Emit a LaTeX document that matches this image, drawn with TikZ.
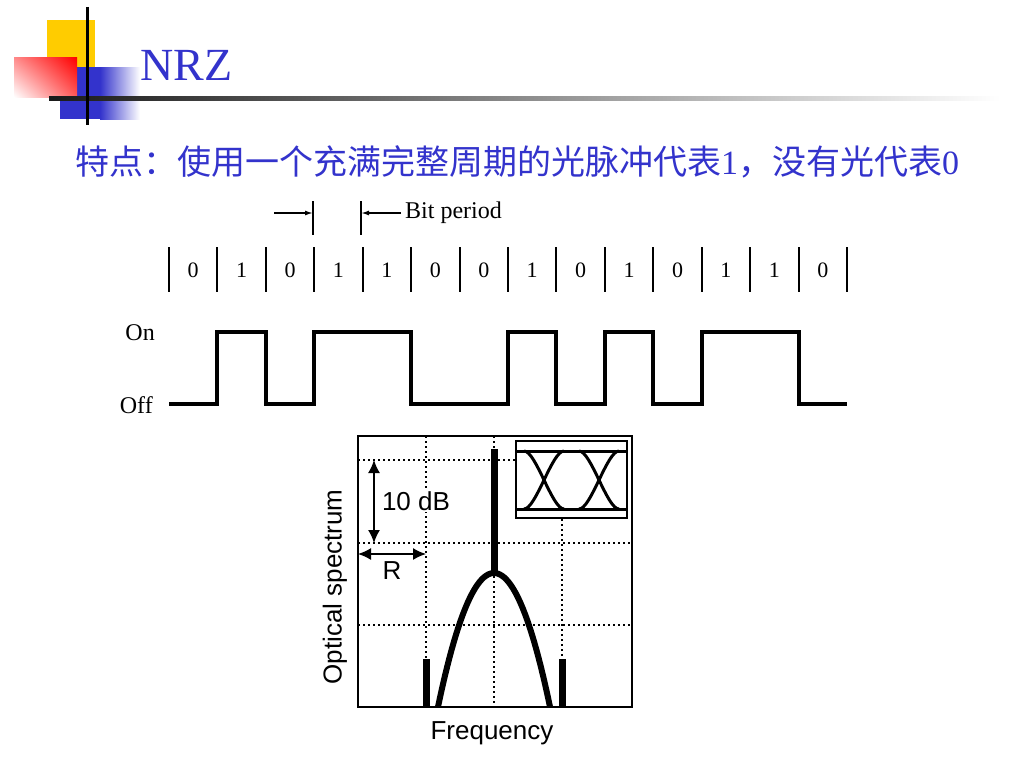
\documentclass[tikz,border=0pt]{standalone}
\usepackage{fontspec}
\setmainfont{Liberation Serif}
\setsansfont{Liberation Sans}
\newfontfamily\cjk{Noto Sans CJK SC}
\usetikzlibrary{arrows.meta,shadings}
\definecolor{slideblue}{RGB}{51,51,204}
\definecolor{logoyellow}{RGB}{255,204,0}
\tikzset{
        % Title and header text
        title_text/.style={inner sep=0pt, anchor=west, text=slideblue},
        % Bit labels and separators
        bit_label/.style={inner sep=0pt, font=\fontsize{22}{26}\selectfont},
        sep_line/.style={line width=2pt},
        % Waveform
        wave_line/.style={line width=4pt, line join=miter},
        % Spectrum plot
        plot_frame/.style={line width=2.5pt},
        grid_dotted/.style={line width=1.5pt, dash pattern=on 1.5pt off 3.5pt},
        spec_line/.style={line width=7pt},
        plot_text/.style={inner sep=0pt, font=\sffamily\fontsize{26}{30}\selectfont},
        dim_arrow/.style={line width=1.5pt, {Latex[length=13pt,width=12pt]}-{Latex[length=13pt,width=12pt]}}
}
\begin{document}
\begin{tikzpicture}[x=1pt, y=-1pt]
    \useasboundingbox (0,0) rectangle (1024,768);
    \fill[white] (0,0) rectangle (1024,768);
    % logo
    \fill[logoyellow] (47,20) rectangle (95,67);
    \fill[slideblue] (60,67) rectangle (101,119);
    \shade[left color=slideblue, right color=white] (100,67) rectangle (140,119);
    \shade[upper left=red!45, upper right=red, lower left=white, lower right=red!65] (14,58) rectangle (77,97);
    \shade[left color=black!90, right color=white] (49,96) rectangle (1000,100);
    \draw[line width=3pt] (87,7) -- (87,125);
    \node[title_text, font=\fontsize{46}{50}\selectfont] (title) at (140,65) {NRZ};
    \node[title_text, font=\fontsize{34}{38}\selectfont] (subtitle) at (75,162)
        {{\cjk 特点：使用一个充满完整周期的光脉冲代表}1{\cjk ，没有光代表}0};
    % bit cells
    \foreach \i in {0,...,14} {
        \coordinate (lo\i) at ({169+\i*48.43},404);
        \coordinate (hi\i) at ({169+\i*48.43},332);
        \draw[sep_line] ({169+\i*48.43},247) -- ({169+\i*48.43},292);
    }
    \foreach \b [count=\i from 0] in {0,1,0,1,1,0,0,1,0,1,0,1,1,0}
        \node[bit_label] (bit\i) at ({193.2+\i*48.43},270) {\b};
    % bit period
    \coordinate (tick_a) at (313,213);
    \coordinate (tick_b) at (361,213);
    \coordinate (bp_start) at (274,213);
    \draw[line width=1.5pt] (313,201) -- (313,235);
    \draw[line width=1.5pt] (361,201) -- (361,235);
    \node[bit_label, anchor=west, font=\fontsize{24}{28}\selectfont] (bitperiod) at (405,213) {Bit period};
    \draw[line width=1.5pt, -{Latex[length=8pt,width=5pt]}] (bp_start) -- (tick_a);
    \draw[line width=1.5pt, -{Latex[length=8pt,width=5pt]}, shorten <=4pt] (bitperiod.west) -- (tick_b);
    % waveform
    \node[bit_label, anchor=east, font=\fontsize{24}{28}\selectfont] (on_label) at (155,333) {On};
    \node[bit_label, anchor=east, font=\fontsize{24}{28}\selectfont] (off_label) at (153,405) {Off};
    \draw[wave_line] (lo0) -- (lo1) -- (hi1) -- (hi2) -- (lo2) -- (lo3) -- (hi3) -- (hi5) -- (lo5)
        -- (lo7) -- (hi7) -- (hi8) -- (lo8) -- (lo9) -- (hi9) -- (hi10) -- (lo10) -- (lo11)
        -- (hi11) -- (hi13) -- (lo13) -- (lo14);
    % spectrum grid
    \draw[grid_dotted] (358,460) -- (515,460);
    \draw[grid_dotted] (358,543) -- (632,543);
    \draw[grid_dotted] (358,625) -- (632,625);
    \draw[grid_dotted] (426,436) -- (426,707);
    \draw[grid_dotted] (494,436) -- (494,707);
    \draw[grid_dotted] (562,519) -- (562,707);
    % spectrum
    \draw[spec_line] (494,449) -- (494,575);
    \draw[spec_line] (426,659) -- (426,707);
    \draw[spec_line] (562,659) -- (562,707);
    \draw[line width=6pt] plot[domain=-56:56, samples=50] ({494+\x},{573+0.0427*\x*\x});
    % eye inset
    \fill[white] (516,441) rectangle (627,518);
    \draw[line width=1.5pt] (516,441) rectangle (627,518);
    \draw[line width=3pt] (516,451) -- (627,451);
    \draw[line width=3pt] (516,509) -- (627,509);
    \foreach \c in {544,599} {
        \draw[line width=3pt] ({\c-20},451) .. controls ({\c-8},451) and ({\c+8},509) .. ({\c+20},509);
        \draw[line width=3pt] ({\c-20},509) .. controls ({\c-8},509) and ({\c+8},451) .. ({\c+20},451);
    }
    \draw[plot_frame] (358,436) rectangle (632,707);
    % dimensions
    \coordinate (db_top) at (374,460);
    \coordinate (db_bot) at (374,543);
    \coordinate (r_left) at (358,554);
    \coordinate (r_right) at (426,554);
    \draw[dim_arrow] (db_top) -- (db_bot);
    \draw[dim_arrow] (r_left) -- (r_right);
    \node[plot_text, fill=white, inner sep=1pt] (db_label) at (416,501) {10 dB};
    \node[plot_text] (r_label) at (392,571) {R};
    \node[plot_text] (freq_label) at (492,733) {Frequency};
    \node[plot_text, rotate=90] (spec_label) at (335,587) {Optical spectrum};
\end{tikzpicture}
\end{document}
